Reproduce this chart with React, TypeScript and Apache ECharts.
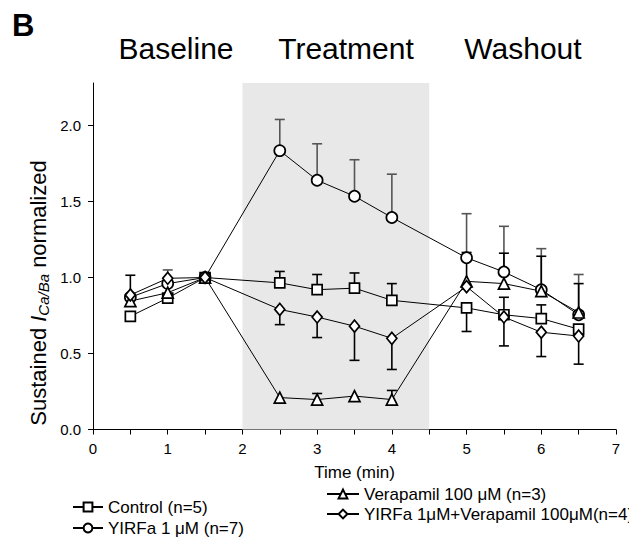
import React, { useEffect, useRef } from "react";
import * as echarts from "echarts";

const times = [0.5, 1, 1.5, 2.5, 3, 3.5, 4, 5, 5.5, 6, 6.5];

const controlVals = [0.745, 0.865, 1.0, 0.965, 0.92, 0.93, 0.85, 0.8, 0.755, 0.73, 0.66];
const controlUp = [0, 0, 0, 0.075, 0.1, 0.1, 0.11, 0, 0.115, 0.09, 0];
const controlDown = [0, 0, 0, 0, 0, 0, 0, 0.155, 0, 0, 0];

const yirfaVals = [0.87, 0.96, 1.0, 1.835, 1.64, 1.535, 1.395, 1.13, 1.037, 0.92, 0.755];
const yirfaUp = [0, 0.09, 0, 0.205, 0.24, 0.24, 0.285, 0.29, 0.3, 0.27, 0.265];
const yirfaDown = [0, 0, 0, 0, 0, 0, 0, 0, 0, 0, 0];

const veraVals = [0.845, 0.9, 1.0, 0.21, 0.197, 0.22, 0.197, 0.975, 0.96, 0.91, 0.77];
const veraUp = [0, 0, 0, 0, 0.04, 0, 0.06, 0.19, 0.2, 0.23, 0.19];
const veraDown = [0, 0, 0, 0, 0, 0, 0, 0, 0, 0, 0];

const comboVals = [0.885, 0.995, 1.0, 0.79, 0.74, 0.68, 0.6, 0.94, 0.74, 0.64, 0.615];
const comboUp = [0.13, 0, 0, 0, 0, 0, 0, 0, 0, 0, 0];
const comboDown = [0, 0, 0, 0.1, 0.135, 0.225, 0.205, 0, 0.19, 0.16, 0.185];

const seriesNames = [
  "Control (n=5)",
  "YIRFa 1 μM (n=7)",
  "Verapamil 100 μM (n=3)",
  "YIRFa 1μM+Verapamil 100μM(n=4)",
];

const treatmentStart = 2;
const treatmentEnd = 4.5;

const phaseLabels = ["Baseline", "Treatment", "Washout"];
const yTicks = [0, 0.5, 1, 1.5, 2];

const FONT = "'Liberation Sans', Arial, sans-serif";

function errData(vals: number[], up: number[], down: number[]) {
  const out: number[][] = [];
  times.forEach((t, i) => {
    if (up[i] > 0) out.push([t, vals[i], vals[i] + up[i]]);
    if (down[i] > 0) out.push([t, vals[i], vals[i] - down[i]]);
  });
  return out;
}

function errSeries(vals: number[], up: number[], down: number[], color: string) {
  return {
    type: "custom",
    silent: true,
    z: 1,
    data: errData(vals, up, down),
    renderItem: (params: any, api: any) => {
      const x = api.value(0);
      const p0 = api.coord([x, api.value(1)]);
      const p1 = api.coord([x, api.value(2)]);
      const cw = 5;
      return {
        type: "group",
        children: [
          {
            type: "line",
            shape: { x1: p0[0], y1: p0[1], x2: p1[0], y2: p1[1] },
            style: { stroke: color, lineWidth: 1.6 },
          },
          {
            type: "line",
            shape: { x1: p1[0] - cw, y1: p1[1], x2: p1[0] + cw, y2: p1[1] },
            style: { stroke: color, lineWidth: 1.6 },
          },
        ],
      };
    },
  };
}

function lineSeries(name: string, vals: number[], symbol: string, size: any, extra: any = {}) {
  return {
    name,
    type: "line",
    z: 3,
    data: times.map((t, i) => [t, vals[i]]),
    symbol,
    symbolSize: size,
    showAllSymbol: true,
    lineStyle: { color: "#000", width: 1 },
    itemStyle: { color: "#fff", borderColor: "#000", borderWidth: 1.7 },
    emphasis: { disabled: true },
    ...extra,
  };
}

function legendItem(name: string, left: number, top: number, w: number) {
  return {
    data: [name],
    orient: "horizontal",
    left,
    top,
    padding: 0,
    itemWidth: w,
    itemHeight: 11,
    textStyle: { fontSize: 17, color: "#000", fontFamily: FONT, lineHeight: 18 },
    selectedMode: false,
  };
}

export default function App() {
  const ref = useRef<HTMLDivElement>(null);
  useEffect(() => {
    if (!ref.current) return;
    const chart = echarts.init(ref.current, undefined, { renderer: "svg" });
    const option: any = {
      animation: false,
      backgroundColor: "#fff",
      textStyle: { fontFamily: FONT },
      grid: { left: 85, right: 21, top: 75, bottom: 120.5, containLabel: false },
      xAxis: {
        type: "value",
        min: 0,
        max: 7,
        interval: 0.5,
        name: "Time (min)",
        nameLocation: "middle",
        nameGap: 34,
        nameTextStyle: { fontSize: 17, color: "#000", fontFamily: FONT },
        axisLine: { lineStyle: { color: "#000", width: 1 } },
        axisTick: { length: 5, lineStyle: { color: "#000" } },
        axisLabel: {
          fontSize: 15,
          color: "#000",
          margin: 11,
          fontFamily: FONT,
          formatter: (v: number) => (Number.isInteger(v) ? String(v) : ""),
        },
        splitLine: { show: false },
      },
      yAxis: {
        type: "value",
        min: 0,
        max: 2.28,
        axisLine: { show: true, lineStyle: { color: "#000", width: 1 } },
        axisTick: { show: true, length: 5, lineStyle: { color: "#000" }, customValues: yTicks },
        axisLabel: {
          fontSize: 15,
          color: "#000",
          margin: 12,
          fontFamily: FONT,
          customValues: yTicks,
          formatter: (v: number) => v.toFixed(1),
        },
        splitLine: { show: false },
      },
      legend: [
        legendItem(seriesNames[0], 64, 490, 30),
        legendItem(seriesNames[1], 64, 511, 30),
        legendItem(seriesNames[2], 318, 477, 32),
        legendItem(seriesNames[3], 318, 497, 32),
      ],
      graphic: [
        {
          type: "text",
          left: 4,
          top: 2,
          style: { text: "B", font: `bold 31px ${FONT}`, fill: "#000" },
        },
        ...phaseLabels.map((t, i) => ({
          type: "text",
          x: [168, 338, 515][i],
          y: 40,
          style: {
            text: t,
            font: `30px ${FONT}`,
            fill: "#000",
            align: "center",
            verticalAlign: "middle",
          },
        })),
        {
          type: "text",
          x: 30,
          y: 285,
          rotation: Math.PI / 2,
          style: {
            text: "{a|Sustained }{i|I}{s|Ca/Ba}{a| normalized}",
            align: "center",
            verticalAlign: "middle",
            fill: "#000",
            rich: {
              a: { fontSize: 22, fontFamily: FONT, fill: "#000" },
              i: { fontSize: 22, fontFamily: FONT, fontStyle: "italic", fill: "#000" },
              s: {
                fontSize: 15,
                fontFamily: FONT,
                fontStyle: "italic",
                fill: "#000",
                padding: [11, 0, 0, 0],
              },
            },
          },
        },
      ],
      series: [
        lineSeries(seriesNames[0], controlVals, "rect", 10, {
          markArea: {
            silent: true,
            itemStyle: { color: "#e8e8e8" },
            data: [[{ xAxis: treatmentStart }, { xAxis: treatmentEnd }]],
          },
        }),
        lineSeries(seriesNames[1], yirfaVals, "circle", 11),
        lineSeries(seriesNames[2], veraVals, "triangle", 11),
        lineSeries(seriesNames[3], comboVals, "diamond", [10, 12]),
        errSeries(controlVals, controlUp, controlDown, "#000"),
        errSeries(yirfaVals, yirfaUp, yirfaDown, "#555"),
        errSeries(veraVals, veraUp, veraDown, "#000"),
        errSeries(comboVals, comboUp, comboDown, "#000"),
      ],
    };
    chart.setOption(option);
    return () => chart.dispose();
  }, []);
  return <div ref={ref} style={{ width: 629, height: 542 }} />;
}
